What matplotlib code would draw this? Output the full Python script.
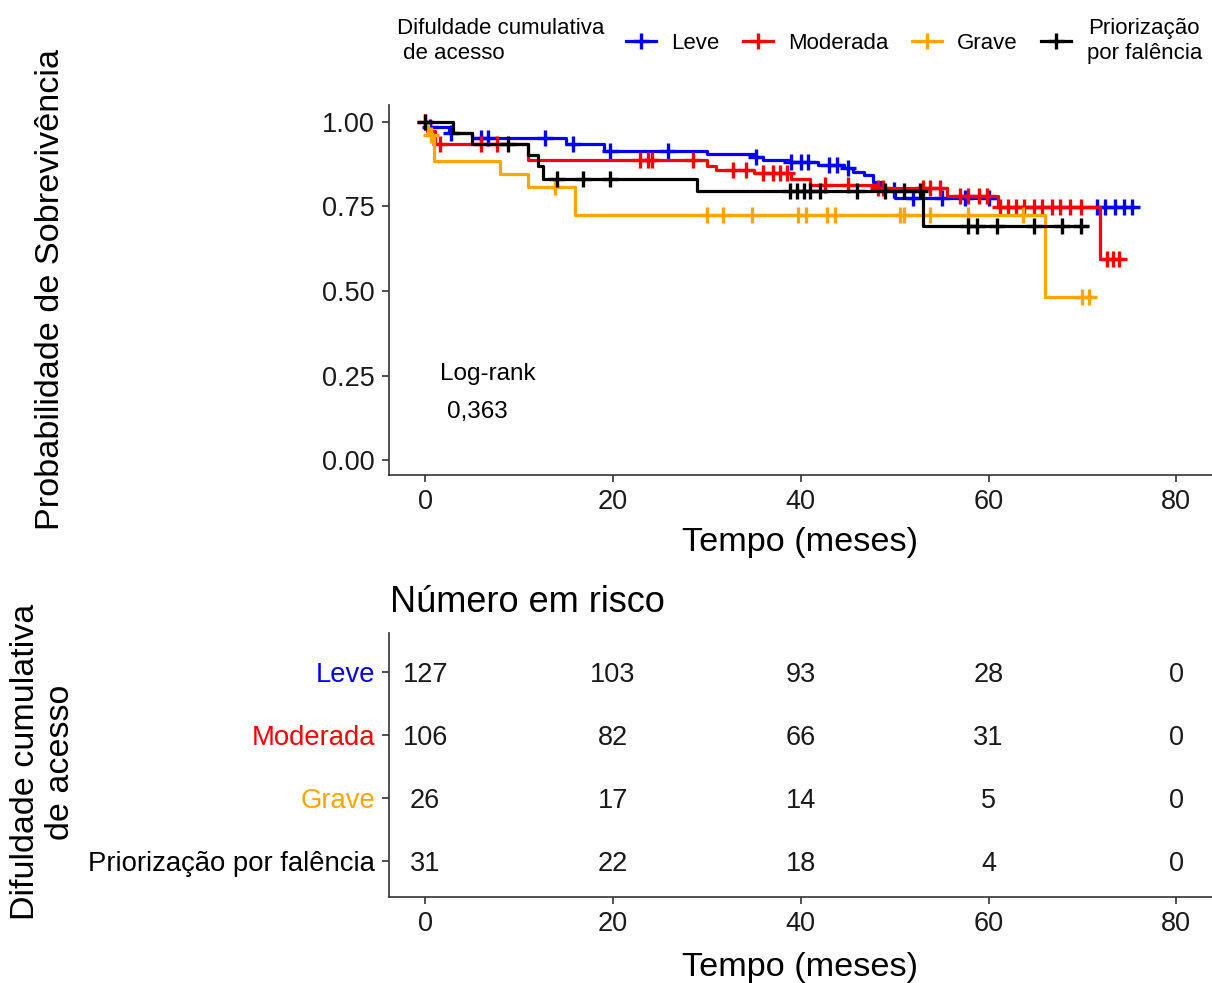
import numpy as np
import matplotlib
matplotlib.use("Agg")
import matplotlib.pyplot as plt
from matplotlib.lines import Line2D

plt.rcParams["font.family"] = ["Liberation Sans", "DejaVu Sans"]

# ---- data ----
groups = ["Leve", "Moderada", "Grave", "Priorização\npor falência"]
table_labels = ["Leve", "Moderada", "Grave", "Priorização por falência"]
colors = ["#0000FF", "#FF0000", "#FFA500", "#000000"]

leve_t = [0, 0.3, 2.5, 5, 15, 19, 30, 35, 36, 39, 41.8, 44.6, 45.6, 46.7, 47.7, 48.5, 50, 61]
leve_s = [1.0, 0.984, 0.968, 0.952, 0.935, 0.914, 0.906, 0.896, 0.888, 0.881, 0.873,
          0.864, 0.852, 0.843, 0.822, 0.80, 0.775, 0.748]
leve_end = 75.8
leve_cens = [0.5, 2.7, 5.9, 6.7, 12.8, 15.7, 19.7, 25.9, 35.2, 39, 40, 40.8, 43, 43.9,
             45, 49.9, 52, 55, 57.5, 60, 71.6, 72.4, 73.5, 74.4, 75.3]

mod_t = [0, 0.2, 1.0, 11, 30, 31, 35, 39, 41, 48, 55.6, 61, 71.9]
mod_s = [1.0, 0.972, 0.934, 0.888, 0.87, 0.859, 0.85, 0.83, 0.814, 0.805, 0.782, 0.749, 0.595]
mod_end = 74.2
mod_cens = [0, 1.6, 5.9, 7.6, 22.9, 23.7, 24.2, 28.5, 32.8, 34.2, 36, 37, 37.8, 38.5,
            42.6, 45, 48.2, 48.8, 53, 53.8, 54.8, 57, 57.8, 59, 59.8, 61.2, 62.1, 62.9,
            63.8, 64.8, 65.7, 66.8, 67.6, 68.7, 69.8, 72.6, 73.3, 73.9]

grave_t = [0, 0.3, 0.9, 8, 11, 16, 66]
grave_s = [1.0, 0.962, 0.885, 0.846, 0.808, 0.724, 0.483]
grave_end = 71.2
grave_cens = [0.6, 13.8, 30, 31.7, 34.8, 39.7, 40.6, 42.8, 43.7, 50.6, 51, 53.8,
              57.8, 63.7, 70, 70.7]

prio_t = [0, 3, 5, 11, 12, 12.5, 29, 53]
prio_s = [1.0, 0.968, 0.935, 0.903, 0.871, 0.832, 0.795, 0.692]
prio_end = 70.5
prio_cens = [0, 8.8, 14, 16.8, 19.7, 38.9, 39.6, 40.3, 41, 42, 46, 49, 51, 52.7,
             57.8, 58.8, 60.9, 64.8, 67.8, 69.8]

times = [leve_t, mod_t, grave_t, prio_t]
survs = [leve_s, mod_s, grave_s, prio_s]
ends = [leve_end, mod_end, grave_end, prio_end]
cens = [leve_cens, mod_cens, grave_cens, prio_cens]

risk_times = [0, 20, 40, 60, 80]
risk_leve = [127, 103, 93, 28, 0]
risk_mod = [106, 82, 66, 31, 0]
risk_grave = [26, 17, 14, 5, 0]
risk_prio = [31, 22, 18, 4, 0]
risk = [risk_leve, risk_mod, risk_grave, risk_prio]

W, H = 1212, 983


def rect(left, top, right, bottom):
    return [left / W, 1 - bottom / H, (right - left) / W, (bottom - top) / H]


def style_axes(ax):
    for s in ["top", "right"]:
        ax.spines[s].set_visible(False)
    for s in ["left", "bottom"]:
        ax.spines[s].set_color("#333333")
        ax.spines[s].set_linewidth(1.2)
    ax.tick_params(colors="#333333", length=5, width=1.2, labelsize=19.5,
                   labelcolor="#1a1a1a", pad=5)


fig = plt.figure(figsize=(W / 100, H / 100), dpi=100)

# ---- survival curves ----
ax = fig.add_axes(rect(389, 105, 1212, 475))
for t, s, e, c, col in zip(times, survs, ends, cens, colors):
    tt = np.append(t, e)
    ss = np.append(s, s[-1])
    ax.step(tt, ss, where="post", color=col, lw=2.3)
    idx = np.searchsorted(t, c, side="right") - 1
    ax.plot(c, np.array(s)[idx], ls="none", marker="+", ms=12, mew=2.4, color=col)

ax.set_xlim(-3.85, 83.8)
ax.set_ylim(-0.044, 1.05)
ax.set_xticks([0, 20, 40, 60, 80])
ax.set_yticks([0, 0.25, 0.5, 0.75, 1.0])
ax.set_yticklabels(["0.00", "0.25", "0.50", "0.75", "1.00"])
style_axes(ax)
ax.set_xlabel("Tempo (meses)", fontsize=24.7)
ax.xaxis.set_label_coords(0.5, -0.14)
ax.set_ylabel("Probabilidade de Sobrevivência", fontsize=24.7)
ax.yaxis.set_label_coords(-0.392, 0.5)
ax.text(1.6, 0.254, "Log-rank", fontsize=17.5, va="center", ha="left")
ax.text(2.3, 0.142, "0,363", fontsize=17.5, va="center", ha="left")

# ---- legend ----
handles = [Line2D([], [], color=col, lw=2.3, marker="+", ms=12, mew=2.4) for col in colors]
leg = fig.legend(handles, groups, ncol=4, loc="center left",
                 bbox_to_anchor=(606 / W, 1 - 41 / H), frameon=False,
                 handlelength=1.36, handletextpad=0.68, columnspacing=1.05,
                 prop={"size": 16})
for txt in leg.get_texts():
    txt.set_multialignment("center")
fig.text(397 / W, 1 - 41 / H, "Difuldade cumulativa\n de acesso", fontsize=16,
         va="center", ha="left")

# ---- risk table ----
axt = fig.add_axes(rect(389, 633, 1212, 897))
rows = [4, 3, 2, 1]
for r, vals in zip(rows, risk):
    for x, v in zip(risk_times, vals):
        axt.text(x, r - 0.04, str(v), ha="center", va="center", fontsize=19.5,
                 color="#1a1a1a")
axt.set_xlim(-3.85, 83.8)
axt.set_ylim(0.429, 4.619)
axt.set_xticks([0, 20, 40, 60, 80])
axt.set_yticks(rows)
axt.set_yticklabels(table_labels)
style_axes(axt)
for lab, col in zip(axt.get_yticklabels(), colors):
    lab.set_color(col)
    lab.set_fontsize(19.8)
axt.set_xlabel("Tempo (meses)", fontsize=24.7)
axt.xaxis.set_label_coords(0.5, -0.21)
fig.text(390 / W, 1 - 602 / H, "Número em risco", fontsize=26, va="center", ha="left")
fig.text(43 / W, 1 - 762 / H, "Difuldade cumulativa\nde acesso", fontsize=24.5,
         rotation=90, ha="center", va="center", multialignment="center")

fig.savefig("out.png", dpi=100)
